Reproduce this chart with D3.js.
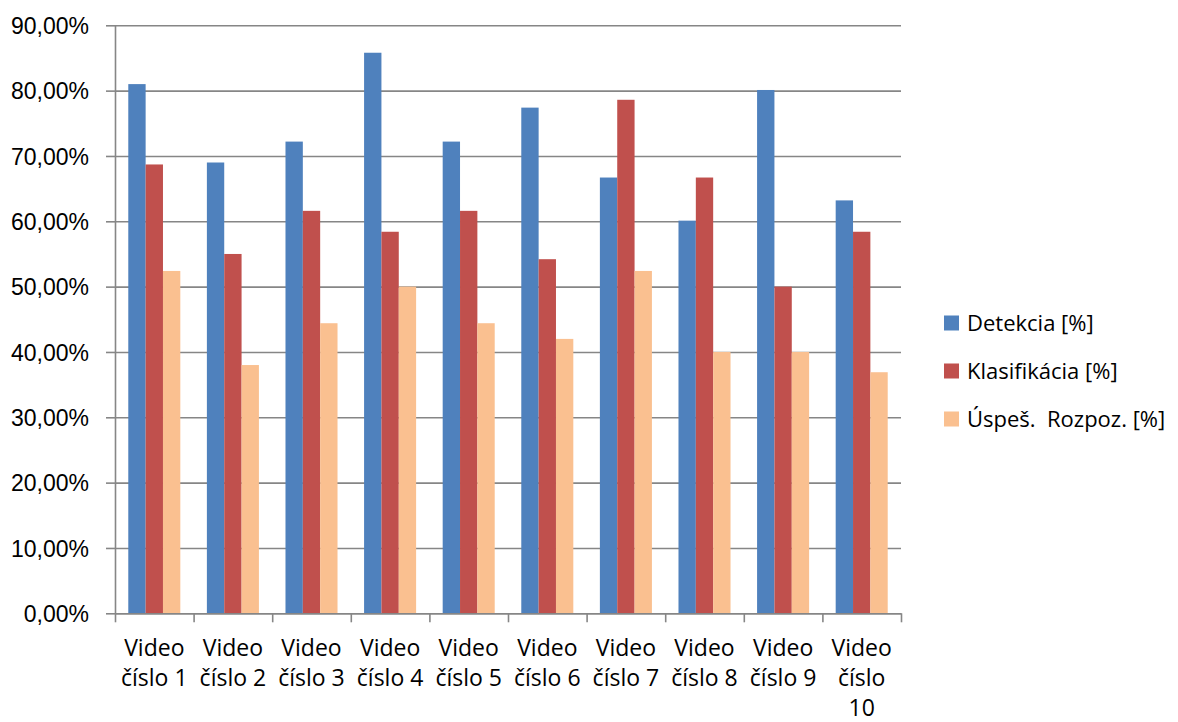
<!DOCTYPE html>
<html lang="sk">
<head>
    <meta charset="UTF-8">
    <title>Detekcia a klasifikácia</title>
</head>
<style>
    body {
        margin: 0;
        background: #fff;
    }
    svg {
        font-family: "Open Sans", "Liberation Sans", sans-serif;
    }
    .grid line {
        stroke: #868686;
        stroke-width: 1.6px;
    }
    .grid path {
        display: none;
    }
    .axis path, .axis line {
        stroke: #868686;
        stroke-width: 1.6px;
    }
    .axis text, .xlabel {
        font-size: 23px;
        fill: #000;
    }
    .legend text {
        font-size: 22px;
        fill: #000;
        white-space: pre;
    }
</style>
<body>
<svg width="1178" height="722"></svg>
<script src="https://d3js.org/d3.v7.min.js"></script>
<script>
    // data
    var categories = ["Video číslo 1", "Video číslo 2", "Video číslo 3", "Video číslo 4", "Video číslo 5",
        "Video číslo 6", "Video číslo 7", "Video číslo 8", "Video číslo 9", "Video číslo 10"];
    var seriesNames = ["Detekcia [%]", "Klasifikácia [%]", "Úspeš.  Rozpoz. [%]"];
    var detekcia = [0.810, 0.690, 0.722, 0.858, 0.722, 0.774, 0.667, 0.601, 0.801, 0.632];
    var klasifikacia = [0.687, 0.550, 0.616, 0.584, 0.616, 0.542, 0.786, 0.667, 0.500, 0.584];
    var uspesnost = [0.524, 0.380, 0.444, 0.500, 0.444, 0.420, 0.524, 0.400, 0.400, 0.369];
    var yTicks = [0, 0.1, 0.2, 0.3, 0.4, 0.5, 0.6, 0.7, 0.8, 0.9];
    var colors = ["#4f81bd", "#c0504d", "#fac090"];

    var svg = d3.select("svg"),
        margin = {top: 25.3, left: 115},
        width = 786,
        height = 588;

    var g = svg.append("g")
        .attr("transform", "translate(" + margin.left + "," + margin.top + ")");

    var seriesData = [detekcia, klasifikacia, uspesnost];
    var rows = categories.map(function (c, i) {
        return {cat: c, values: seriesData.map(function (s, k) { return {k: k, v: s[i]}; })};
    });

    var x0 = d3.scaleBand()
        .domain(categories)
        .range([0, width])
        .paddingInner(0.338)
        .paddingOuter(0.169);
    var x1 = d3.scaleBand()
        .domain([0, 1, 2])
        .range([0, x0.bandwidth()]);
    var xEdge = d3.scaleLinear()
        .domain([0, categories.length])
        .range([0, width]);
    var y = d3.scaleLinear()
        .domain([0, 0.9])
        .range([height, 0]);

    var locale = d3.formatLocale({decimal: ",", thousands: " ", grouping: [3], currency: ["", "€"]});
    var pct = locale.format(".2%");

    // gridlines
    g.append("g")
        .attr("class", "grid")
        .call(d3.axisLeft(y).tickValues(yTicks).tickSize(-width).tickFormat(""));

    // bars
    var groups = g.selectAll(".group")
        .data(rows)
        .enter().append("g")
        .attr("class", "group")
        .attr("transform", function (d) { return "translate(" + x0(d.cat) + ",0)"; });
    groups.selectAll("rect")
        .data(function (d) { return d.values; })
        .enter().append("rect")
        .attr("x", function (d) { return x1(d.k); })
        .attr("width", x1.bandwidth())
        .attr("y", function (d) { return y(d.v); })
        .attr("height", function (d) { return height - y(d.v); })
        .attr("fill", function (d) { return colors[d.k]; });

    // y axis
    g.append("g")
        .attr("class", "axis")
        .call(d3.axisLeft(y).tickValues(yTicks).tickSize(9).tickSizeOuter(0).tickPadding(17).tickFormat(pct))
        .selectAll("text")
        .attr("dy", "0.36em");

    // x axis, ticks on category boundaries
    g.append("g")
        .attr("class", "axis")
        .attr("transform", "translate(0," + height + ")")
        .call(d3.axisBottom(xEdge).ticks(categories.length).tickSize(9).tickSizeOuter(0).tickFormat(""));

    // category labels, wrapped like the original
    var labels = g.append("g")
        .selectAll("text")
        .data(categories)
        .enter().append("text")
        .attr("class", "xlabel")
        .attr("text-anchor", "middle")
        .attr("x", function (d) { return x0(d) + x0.bandwidth() / 2; })
        .attr("y", height + 43);
    labels.each(function (d) {
        var text = d3.select(this),
            words = d.split(" "),
            maxW = x0.step() - 6,
            line = [],
            cx = text.attr("x"),
            tspan = text.append("tspan").attr("x", cx).attr("dy", 0);
        words.forEach(function (w) {
            line.push(w);
            tspan.text(line.join(" "));
            if (tspan.node().getComputedTextLength() > maxW && line.length > 1) {
                line.pop();
                tspan.text(line.join(" "));
                line = [w];
                tspan = text.append("tspan").attr("x", cx).attr("dy", 30).text(w);
            }
        });
    });

    // legend
    var legend = svg.append("g")
        .attr("class", "legend")
        .attr("transform", "translate(944,315.5)");
    var item = legend.selectAll("g")
        .data(seriesNames)
        .enter().append("g")
        .attr("transform", function (d, i) { return "translate(0," + i * 48 + ")"; });
    item.append("rect")
        .attr("width", 15)
        .attr("height", 15)
        .attr("fill", function (d, i) { return colors[i]; });
    item.append("text")
        .attr("x", 23)
        .attr("y", 7.5)
        .attr("dy", "0.36em")
        .text(function (d) { return d; });
</script>
</body>
</html>
